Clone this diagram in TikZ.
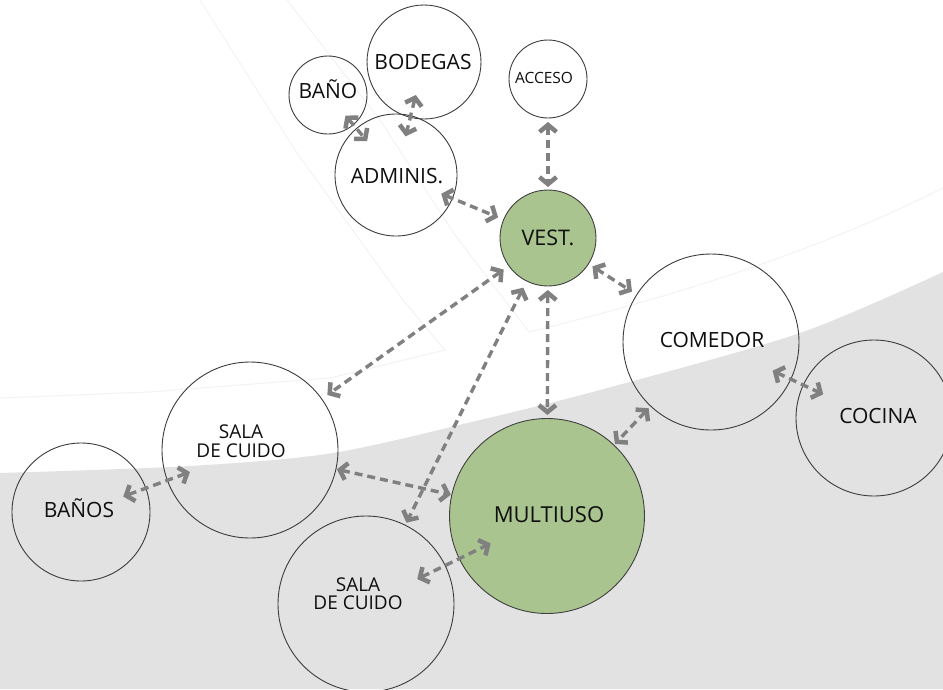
\documentclass[tikz,border=0pt]{standalone}
\usepackage{fontspec}
\setmainfont{Open Sans}
\usetikzlibrary{arrows.meta}
\definecolor{bggray}{RGB}{226,226,226}
\definecolor{faintline}{RGB}{243,243,243}
\definecolor{roomgreen}{RGB}{169,196,142}
\definecolor{conngray}{RGB}{128,128,128}
\definecolor{edgegray}{RGB}{60,60,60}
\definecolor{txtcol}{RGB}{15,15,15}
\begin{document}
\begin{tikzpicture}[x=1pt,y=-1pt,
  room/.style={circle, draw=edgegray, line width=0.9pt, inner sep=0pt, minimum size=#1},
  hub/.style={room=#1, fill=roomgreen, draw=black!75},
  lbl/.style={font=\fontsize{21}{21}\selectfont, text=txtcol, anchor=base, inner sep=0pt},
  lbltwo/.style={font=\fontsize{19}{18.5}\selectfont, text=txtcol, anchor=center, inner sep=0pt, align=center},
  link/.style={draw=conngray, line width=3.4pt, dash pattern=on 8pt off 5pt,
    {Straight Barb[length=7pt,width=17pt,line width=4.5pt]}-{Straight Barb[length=7pt,width=17pt,line width=4.5pt]}},
  faint/.style={draw=faintline, line width=1pt}
]
\useasboundingbox (0,0) rectangle (943,689);
% background
\fill[white] (0,0) rectangle (943,689);
\fill[bggray] plot[smooth] coordinates {(0,473) (190,466) (333,453) (480,420) (600,390) (800,333) (943,272)} -- (943,689) -- (0,689) -- cycle;
% faint construction lines
\draw[faint] (200,0) -- (295,150) -- (403,300) -- (445,350) -- (330,378) -- (150,392) -- (0,398);
\draw[faint] (287,0) -- (380,120) -- (455,235) -- (529,332) .. controls (640,305) and (800,260) .. (943,188);

% rooms
\node[room=78pt]  (bano)   at (328,95)  {};
\node[room=114pt] (bodegas) at (424,62) {};
\node[room=78pt]  (acceso) at (548,79)  {};
\node[room=122pt] (admin)  at (396,175) {};
\node[hub=96pt]   (vest)   at (548,238) {};
\node[room=176pt] (comedor) at (711,342) {};
\node[room=156pt] (cocina) at (874,418) {};
\node[hub=195pt]  (multi)  at (547,516) {};
\node[room=176pt] (salaA)  at (250,450) {};
\node[room=176pt] (salaB)  at (366,604) {};
\node[room=138pt] (banos)  at (81,512)  {};

% connectors
\draw[link, shorten <=27pt, shorten >=44.6pt] (bano.center) -- (admin.center);
\draw[link, shorten <=34pt, shorten >=39.8pt] (bodegas.center) -- (admin.center);
\draw[link, shorten <=43pt, shorten >=51pt] (acceso.center) -- (vest.center);
\draw[link, shorten <=49pt, shorten >=54pt] (admin.center) -- (vest.center);
\draw[link, shorten <=54.4pt, shorten >=94.9pt] (vest.center) -- (salaA.center);
\draw[link, shorten <=55.5pt, shorten >=90.8pt] (vest.center) -- (salaB.center);
\draw[link, shorten <=52pt, shorten >=101pt] (vest.center) -- (multi.center);
\draw[link, shorten <=52.7pt, shorten >=93.7pt] (vest.center) -- (comedor.center);
\draw[link, shorten <=68pt, shorten >=56pt] (comedor.center) -- (cocina.center);
\draw[link, shorten <=91pt, shorten >=99pt] (comedor.center) -- (multi.center);
\draw[link, shorten <=89pt, shorten >=98.5pt] (salaA.center) -- (multi.center);
\draw[link, shorten <=64pt, shorten >=45pt] (salaA.center) -- (banos.center);
\draw[link, shorten <=57pt, shorten >=62.6pt] (salaB.center) -- (multi.center);

% labels
\node[lbl] (tbano) at (328,98) {BAÑO};
\node[lbl] (tbodegas) at (423,69) {BODEGAS};
\node[lbl, font=\fontsize{15.5}{15.5}\selectfont] (tacceso) at (544,83) {ACCESO};
\node[lbl] (tadmin) at (397,183) {ADMINIS.};
\node[lbl, font=\fontsize{21.5}{21.5}\selectfont] (tvest) at (548,245) {VEST.};
\node[lbl] (tcomedor) at (712,347) {COMEDOR};
\node[lbl] (tcocina) at (878,423) {COCINA};
\node[lbl, font=\fontsize{22}{22}\selectfont] (tmulti) at (549,522) {MULTIUSO};
\node[lbl] (tbanos) at (79,517) {BAÑOS};
\node[lbltwo] (tsalaA) at (241,441) {SALA\\DE CUIDO};
\node[lbltwo] (tsalaB) at (358,593.5) {SALA\\DE CUIDO};
\end{tikzpicture}
\end{document}
